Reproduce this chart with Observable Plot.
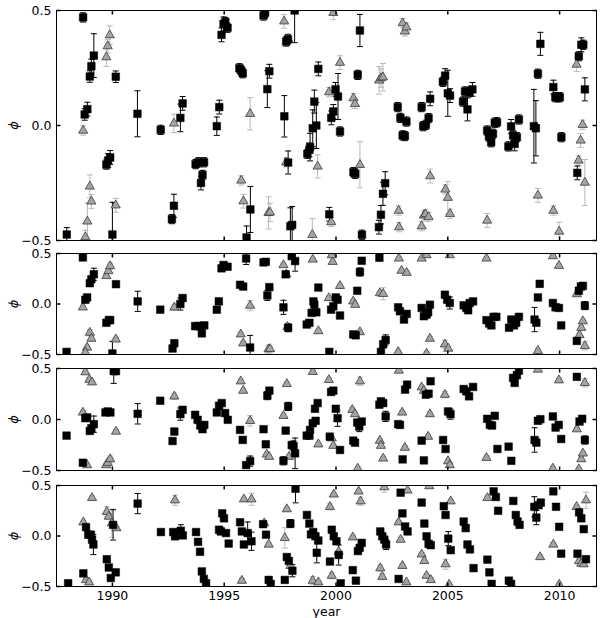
<!DOCTYPE html>
<html><head><meta charset="utf-8">
<script src="https://cdn.jsdelivr.net/npm/d3@7"></script>
<script src="https://cdn.jsdelivr.net/npm/@observablehq/plot@0.6"></script>
<style>
body{margin:0;background:#fff;}
#chart{position:relative;width:600px;height:618px;font-family:"DejaVu Sans";}
#chart svg{position:absolute;left:0;overflow:visible;}
</style></head><body><div id="chart"></div>
<script>
// ---- data: [year, phase, error] ----
const p1Squares = [
[1988.69,0.47,0.02],[1987.96,-0.474,0.03],[1988.99,0.213,0.025],[1989.06,0.258,0.03],[1989.17,0.304,0.095],
[1988.76,0.048,0.025],[1988.88,0.071,0.03],[1989.73,-0.17,0.02],[1989.81,-0.152,0.03],[1989.90,-0.139,0.03],
[1990.00,-0.474,0.14],[1990.15,0.212,0.025],[1991.12,0.051,0.1],[1992.16,-0.019,0.02],[1993.04,0.033,0.06],
[1993.14,0.096,0.03],[1992.66,-0.407,0.02],[1992.75,-0.349,0.05],[1993.72,-0.168,0.02],[1993.85,-0.16,0.02],
[1994.10,-0.16,0.02],[1994.03,-0.215,0.02],[1993.96,-0.25,0.03],[1994.88,0.394,0.03],[1994.97,0.442,0.03],
[1995.05,0.45,0.02],[1995.15,0.425,0.02],[1994.67,-0.003,0.04],[1994.78,0.08,0.03],[1995.68,0.249,0.02],
[1995.76,0.239,0.02],[1995.83,0.227,0.02],[1996.76,0.478,0.02],[1996.83,0.49,0.02],[1997.02,0.236,0.03],
[1996.93,0.158,0.08],[1996.17,-0.365,0.1],[1996.00,-0.487,0.05],[1997.69,0.04,0.09],[1997.77,0.365,0.02],
[1997.85,0.375,0.02],[1998.15,0.5,0.14],[1997.86,-0.161,0.05],[1997.96,-0.438,0.08],[1998.04,-0.432,0.08],
[1998.72,-0.123,0.02],[1998.81,-0.106,0.03],[1998.84,-0.094,0.06],[1998.96,-0.012,0.08],[1999.03,0.104,0.05],
[1999.12,0.0,0.1],[1999.21,0.246,0.03],[1999.79,0.033,0.03],[1999.88,0.061,0.03],[1999.98,0.157,0.03],
[2000.09,0.126,0.1],[2000.18,-0.026,0.02],[1999.70,-0.386,0.03],[2000.97,0.22,0.02],[2001.07,0.413,0.07],
[2000.78,-0.203,0.02],[2000.86,-0.21,0.02],[2001.16,-0.475,0.02],[2001.92,-0.442,0.03],[2002.01,-0.388,0.04],
[2002.10,-0.297,0.05],[2002.20,-0.251,0.05],[2002.76,0.08,0.02],[2002.88,0.033,0.02],[2003.15,0.017,0.02],
[2002.98,-0.043,0.02],[2003.08,-0.046,0.02],[2003.83,0.08,0.02],[2003.90,-0.003,0.02],[2004.02,0.003,0.02],
[2004.14,0.032,0.02],[2004.21,0.116,0.03],[2004.78,0.19,0.02],[2004.88,0.217,0.03],[2005.00,0.14,0.1],
[2005.10,0.13,0.03],[2005.68,0.104,0.02],[2005.77,0.148,0.02],[2005.88,0.07,0.05],[2005.97,0.145,0.02],
[2006.10,0.157,0.03],[2006.76,-0.022,0.02],[2006.84,-0.048,0.02],[2006.94,-0.073,0.02],[2007.02,-0.036,0.02],
[2007.10,0.012,0.02],[2007.20,0.014,0.02],[2007.71,-0.091,0.02],[2007.83,-0.004,0.03],[2007.92,-0.043,0.02],
[2007.99,-0.08,0.03],[2008.09,-0.051,0.02],[2008.18,0.026,0.02],[2008.85,-0.003,0.16],[2008.94,-0.012,0.12],
[2009.14,0.355,0.05],[2009.03,0.225,0.02],[2009.72,0.167,0.03],[2009.81,0.123,0.02],[2009.91,0.123,0.02],
[2010.01,0.123,0.02],[2010.08,-0.051,0.02],[2010.79,-0.206,0.03],[2010.86,0.301,0.02],[2010.97,0.351,0.03],
[2011.06,0.351,0.02],[2011.13,0.157,0.05]
];
const p1Triangles = [
[1988.69,-0.022,0.02],[1988.99,-0.265,0.05],[1989.06,-0.33,0.03],[1988.88,-0.417,0.08],[1988.79,-0.485,0.03],
[1989.73,0.297,0.04],[1989.79,0.345,0.03],[1989.88,0.393,0.04],[1990.15,-0.347,0.03],[1992.75,0.009,0.04],
[1995.76,-0.239,0.02],[1995.86,-0.329,0.03],[1996.16,0.051,0.07],[1996.98,-0.38,0.07],[1997.05,-0.378,0.04],
[1997.68,0.453,0.03],[1997.77,-0.16,0.02],[1997.86,0.377,0.02],[1998.94,-0.475,0.07],[1999.18,-0.178,0.05],
[1999.69,0.145,0.02],[1999.79,-0.42,0.02],[1999.88,0.49,0.03],[2000.18,0.273,0.03],[2000.78,0.119,0.02],
[2000.85,0.094,0.02],[2001.07,-0.171,0.1],[2001.93,0.196,0.06],[2002.01,0.206,0.04],[2002.10,0.21,0.06],
[2002.80,-0.37,0.02],[2002.82,-0.442,0.02],[2002.98,0.445,0.02],[2003.08,0.409,0.02],[2003.15,0.427,0.02],
[2003.83,-0.438,0.02],[2003.93,-0.391,0.02],[2004.00,-0.385,0.02],[2004.14,-0.398,0.02],[2004.21,-0.22,0.03],
[2004.89,-0.278,0.02],[2005.00,-0.314,0.07],[2005.10,-0.384,0.02],[2006.76,-0.413,0.03],[2009.03,-0.304,0.03],
[2009.72,-0.37,0.02],[2009.98,-0.461,0.04],[2010.76,0.265,0.03],[2011.03,0.003,0.02],[2010.94,-0.065,0.03],
[2010.85,-0.152,0.02],[2011.13,-0.248,0.1]
];
const p2Squares = [
[1988.68,0.461,0.02],[1987.95,-0.474,0.02],[1988.79,0.042,0.02],[1988.87,0.065,0.02],[1988.99,0.206,0.02],
[1989.06,0.245,0.02],[1989.17,0.294,0.06],[1989.73,-0.186,0.02],[1989.84,-0.16,0.02],[1989.90,-0.16,0.02],
[1990.00,-0.49,0.12],[1990.16,0.196,0.02],[1991.13,0.026,0.1],[1992.14,-0.056,0.02],[1992.69,-0.441,0.02],
[1992.77,-0.389,0.03],[1993.04,0.0,0.06],[1993.14,0.059,0.02],[1993.70,-0.219,0.02],[1993.81,-0.219,0.02],
[1993.93,-0.219,0.02],[1994.11,-0.212,0.02],[1994.00,-0.291,0.02],[1994.67,-0.056,0.02],[1994.76,0.026,0.02],
[1994.88,0.353,0.02],[1994.97,0.386,0.02],[1995.15,0.369,0.02],[1995.71,0.19,0.02],[1995.85,0.173,0.02],
[1995.98,0.451,0.06],[1996.16,-0.431,0.12],[1996.76,0.412,0.02],[1996.86,0.418,0.02],[1996.93,0.085,0.05],
[1997.02,0.167,0.02],[1997.65,-0.033,0.07],[1997.75,0.294,0.02],[1997.86,-0.235,0.04],[1998.02,0.474,0.02],
[1998.17,0.425,0.1],[1998.69,-0.203,0.02],[1998.81,-0.186,0.02],[1998.91,-0.088,0.02],[1998.99,0.026,0.02],
[1999.03,-0.006,0.02],[1999.12,-0.082,0.02],[1999.21,0.163,0.02],[1999.70,-0.474,0.02],[1999.78,-0.056,0.02],
[1999.88,-0.023,0.02],[1999.99,0.065,0.02],[2000.07,0.042,0.02],[2000.18,-0.114,0.02],[2000.95,0.131,0.02],
[2001.07,0.317,0.04],[2001.15,0.428,0.02],[2001.94,0.458,0.02],[2002.01,-0.474,0.02],[2002.11,-0.399,0.03],
[2002.22,-0.356,0.05],[2000.77,-0.301,0.02],[2000.88,-0.31,0.02],[2002.78,-0.033,0.02],[2002.86,-0.072,0.02],
[2003.04,-0.154,0.02],[2003.16,-0.098,0.02],[2003.83,-0.039,0.02],[2003.93,-0.121,0.02],[2004.05,-0.105,0.02],
[2004.12,-0.082,0.02],[2004.20,-0.007,0.02],[2004.87,0.092,0.02],[2004.97,0.042,0.02],[2005.09,0.01,0.06],
[2005.71,-0.013,0.02],[2005.83,-0.039,0.02],[2005.91,-0.062,0.02],[2005.98,0.01,0.02],[2006.13,0.026,0.02],
[2006.73,-0.16,0.02],[2006.85,-0.193,0.02],[2006.95,-0.212,0.02],[2007.05,-0.127,0.02],[2007.17,-0.127,0.02],
[2007.74,-0.235,0.02],[2007.84,-0.154,0.02],[2007.96,-0.212,0.02],[2008.06,-0.186,0.02],[2008.18,-0.127,0.02],
[2008.88,-0.154,0.12],[2008.96,-0.186,0.02],[2009.03,0.065,0.02],[2009.11,0.2,0.03],[2009.70,0.01,0.02],
[2009.82,-0.033,0.02],[2009.97,-0.039,0.02],[2010.07,-0.212,0.02],[2010.77,-0.366,0.02],[2010.86,0.131,0.02],
[2010.95,0.173,0.02],[2011.04,0.18,0.02],[2011.13,-0.016,0.04]
];
const p2Triangles = [
[1988.68,-0.033,0.02],[1988.99,-0.284,0.03],[1989.06,-0.343,0.02],[1988.87,-0.431,0.02],[1988.79,-0.48,0.02],
[1989.73,0.278,0.02],[1989.82,0.327,0.02],[1989.90,0.376,0.03],[1990.15,-0.35,0.02],[1992.77,-0.033,0.03],
[1995.74,-0.3,0.02],[1995.85,-0.389,0.02],[1996.16,-0.016,0.05],[1996.98,-0.448,0.04],[1997.05,-0.445,0.02],
[1997.65,0.386,0.02],[1997.78,0.294,0.02],[1997.83,-0.225,0.02],[1998.96,0.441,0.02],[1999.21,-0.268,0.02],
[1999.68,0.059,0.02],[1999.85,0.418,0.02],[1999.81,0.484,0.02],[2000.18,0.18,0.02],[2000.77,0.026,0.02],
[2000.86,-0.007,0.02],[2001.07,-0.278,0.02],[2001.96,0.108,0.02],[2002.11,0.101,0.06],[2002.81,0.451,0.02],
[2002.93,0.33,0.02],[2003.16,0.31,0.02],[2002.78,-0.474,0.02],[2003.83,0.451,0.02],[2004.05,0.484,0.02],
[2004.20,-0.343,0.02],[2004.05,-0.49,0.02],[2004.87,-0.399,0.04],[2005.02,-0.441,0.02],[2005.09,0.484,0.02],
[2006.73,0.451,0.02],[2009.03,-0.464,0.02],[2009.70,0.474,0.02],[2009.97,0.379,0.02],[2010.77,0.098,0.02],
[2010.89,-0.307,0.02],[2010.97,-0.235,0.02],[2011.04,-0.17,0.02],[2011.13,-0.415,0.04]
];
const p3Squares = [
[1987.95,-0.158,0.02],[1988.68,-0.424,0.02],[1988.79,0.013,0.02],[1988.87,0.02,0.02],[1988.99,-0.112,0.02],
[1989.06,-0.086,0.02],[1989.17,-0.046,0.08],[1989.69,0.069,0.02],[1989.79,0.079,0.02],[1989.91,0.069,0.02],
[1990.06,0.474,0.12],[1990.16,0.474,0.02],[1991.13,0.056,0.1],[1992.14,0.184,0.02],[1992.69,-0.211,0.02],
[1992.77,-0.118,0.03],[1993.04,0.053,0.06],[1993.14,0.095,0.02],[1993.70,0.046,0.02],[1993.81,-0.003,0.02],
[1993.93,-0.059,0.02],[1994.03,-0.095,0.02],[1994.11,-0.053,0.02],[1994.67,0.069,0.02],[1994.77,0.135,0.02],
[1994.89,0.161,0.02],[1995.04,0.063,0.02],[1995.16,-0.003,0.02],[1995.71,-0.102,0.02],[1995.83,-0.2,0.02],
[1995.98,-0.447,0.02],[1996.16,-0.408,0.05],[1996.76,-0.095,0.02],[1996.86,-0.243,0.02],[1996.93,0.234,0.04],
[1997.02,0.283,0.02],[1997.65,-0.405,0.04],[1997.75,-0.109,0.02],[1997.86,0.128,0.04],[1998.02,-0.25,0.02],
[1998.10,-0.26,0.05],[1998.17,-0.332,0.15],[1998.69,-0.158,0.02],[1998.81,-0.158,0.02],[1998.84,-0.102,0.02],
[1998.96,-0.036,0.02],[1999.06,0.105,0.02],[1999.09,-0.013,0.02],[1999.18,0.161,0.02],[1999.78,0.27,0.02],
[1999.88,0.283,0.02],[1999.72,-0.168,0.02],[1999.99,0.105,0.02],[2000.07,0.013,0.08],[2000.18,-0.299,0.02],
[2000.77,-0.207,0.02],[2000.85,-0.227,0.02],[2000.95,-0.03,0.02],[2001.04,-0.069,0.05],[2001.15,-0.02,0.02],
[2001.94,0.145,0.02],[2002.01,0.178,0.02],[2002.11,0.161,0.02],[2002.22,0.03,0.05],[2002.78,-0.046,0.02],
[2002.86,-0.053,0.02],[2002.98,-0.391,0.02],[2003.09,0.293,0.02],[2003.18,0.342,0.02],[2003.83,-0.207,0.02],
[2003.93,-0.401,0.02],[2004.02,0.243,0.02],[2004.14,0.253,0.02],[2004.23,0.375,0.02],[2004.79,-0.201,0.02],
[2004.90,-0.289,0.02],[2005.01,0.079,0.02],[2005.12,0.053,0.05],[2005.71,0.299,0.02],[2005.83,0.276,0.02],
[2005.95,0.227,0.02],[2006.13,0.319,0.02],[2006.76,0.007,0.02],[2006.88,-0.053,0.02],[2006.98,-0.059,0.02],
[2007.10,0.036,0.02],[2007.22,-0.289,0.02],[2007.72,-0.266,0.02],[2007.84,-0.405,0.02],[2007.92,0.408,0.02],
[2007.99,0.359,0.02],[2008.09,0.434,0.02],[2008.18,0.48,0.02],[2008.88,-0.201,0.12],[2008.96,-0.227,0.02],
[2009.03,-0.013,0.02],[2009.14,0.003,0.02],[2009.70,0.03,0.02],[2009.82,-0.079,0.02],[2009.96,-0.053,0.02],
[2010.07,-0.191,0.02],[2010.77,0.418,0.02],[2010.89,-0.02,0.02],[2011.01,0.007,0.02],[2011.13,-0.201,0.04]
];
const p3Triangles = [
[1988.68,0.069,0.02],[1988.79,0.464,0.02],[1988.97,0.391,0.02],[1989.09,0.365,0.02],[1988.87,-0.447,0.02],
[1989.72,-0.447,0.02],[1989.79,-0.424,0.02],[1989.90,-0.388,0.03],[1990.16,-0.118,0.02],[1992.77,0.227,0.03],
[1995.74,0.375,0.02],[1995.85,0.283,0.02],[1996.16,-0.013,0.05],[1996.90,-0.342,0.02],[1997.01,-0.365,0.02],
[1997.65,0.036,0.02],[1997.80,0.349,0.02],[1997.90,-0.365,0.02],[1998.96,0.467,0.02],[1999.21,-0.243,0.02],
[1999.68,0.388,0.02],[1999.81,-0.184,0.02],[1999.88,-0.257,0.02],[2000.73,0.095,0.02],[2000.85,0.053,0.02],
[2001.07,0.375,0.04],[2000.97,-0.48,0.02],[2001.96,-0.207,0.02],[2002.01,-0.257,0.02],[2002.11,-0.382,0.02],
[2002.81,0.48,0.02],[2002.96,0.069,0.02],[2003.08,-0.276,0.02],[2003.83,0.316,0.02],[2003.93,0.283,0.02],
[2004.12,-0.168,0.02],[2004.20,0.053,0.02],[2004.87,0.243,0.03],[2005.01,-0.408,0.02],[2005.09,-0.447,0.02],
[2006.73,-0.375,0.02],[2009.03,0.49,0.02],[2009.70,-0.48,0.02],[2009.97,0.385,0.02],[2010.77,-0.095,0.02],
[2010.86,-0.487,0.02],[2010.97,-0.388,0.02],[2011.04,-0.332,0.02],[2011.13,0.359,0.04]
];
const p4Squares = [
[1988.02,-0.468,0.02],[1988.70,-0.37,0.02],[1988.82,0.088,0.02],[1988.92,0.013,0.02],[1989.04,0.013,0.02],
[1989.09,-0.036,0.02],[1989.15,-0.084,0.1],[1989.75,-0.23,0.02],[1989.84,-0.312,0.02],[1989.93,-0.416,0.02],
[1990.03,0.11,0.15],[1990.15,-0.36,0.02],[1991.13,0.321,0.1],[1992.17,0.039,0.02],[1992.72,0.039,0.02],
[1992.80,-0.003,0.03],[1993.06,0.052,0.06],[1993.15,0.006,0.02],[1993.74,0.039,0.02],[1993.83,-0.058,0.02],
[1993.92,-0.156,0.02],[1994.00,-0.351,0.02],[1994.09,-0.425,0.02],[1994.19,-0.468,0.02],[1994.77,0.062,0.02],
[1994.85,0.045,0.02],[1994.91,0.224,0.02],[1994.99,0.175,0.02],[1995.08,0.029,0.02],[1995.20,-0.075,0.02],
[1995.71,0.136,0.02],[1995.79,0.045,0.02],[1995.88,-0.084,0.02],[1996.05,0.029,0.11],[1996.22,-0.052,0.09],
[1996.74,0.117,0.02],[1996.87,0.013,0.02],[1996.99,-0.435,0.03],[1997.08,-0.474,0.02],[1997.71,-0.435,0.02],
[1997.80,-0.208,0.02],[1997.89,-0.247,0.02],[1997.96,0.123,0.04],[1998.05,-0.344,0.06],[1998.19,0.468,0.14],
[1998.70,0.208,0.02],[1998.81,0.123,0.02],[1998.88,0.016,0.02],[1998.98,0.039,0.02],[1999.08,-0.003,0.02],
[1999.14,-0.166,0.1],[1999.21,-0.045,0.02],[1999.73,-0.253,0.02],[1999.81,0.062,0.02],[1999.90,-0.003,0.02],
[2000.02,-0.052,0.02],[2000.12,-0.188,0.1],[2000.21,-0.468,0.02],[2000.75,-0.338,0.02],[2000.89,-0.442,0.02],
[2000.98,-0.149,0.02],[2001.06,-0.117,0.02],[2001.15,-0.068,0.02],[2001.98,0.045,0.02],[2002.07,-0.003,0.02],
[2002.16,-0.036,0.02],[2002.24,-0.084,0.05],[2002.80,-0.425,0.02],[2002.89,0.429,0.02],[2002.97,0.224,0.02],
[2003.09,0.094,0.02],[2003.20,0.045,0.02],[2003.83,0.331,0.02],[2003.95,0.123,0.02],[2004.05,-0.003,0.02],
[2004.14,-0.078,0.02],[2004.24,-0.091,0.02],[2004.82,0.295,0.02],[2004.90,0.208,0.02],[2005.02,-0.026,0.07],
[2005.13,-0.14,0.02],[2005.71,0.143,0.02],[2005.80,0.078,0.02],[2005.88,-0.084,0.02],[2005.99,-0.133,0.02],
[2006.15,-0.318,0.02],[2006.77,-0.234,0.02],[2006.86,-0.36,0.02],[2006.96,-0.474,0.02],[2007.05,0.442,0.02],
[2007.15,0.386,0.02],[2007.25,0.25,0.02],[2007.73,-0.442,0.02],[2007.83,-0.474,0.02],[2007.93,0.347,0.02],
[2008.04,0.208,0.02],[2008.12,0.143,0.02],[2008.21,0.11,0.02],[2008.87,0.289,0.1],[2008.96,0.182,0.07],
[2009.06,0.305,0.02],[2009.16,0.331,0.02],[2009.72,0.442,0.02],[2009.84,0.289,0.02],[2009.98,0.091,0.02],
[2010.07,-0.175,0.02],[2010.80,-0.175,0.02],[2010.87,0.234,0.02],[2010.97,0.175,0.02],[2011.08,0.068,0.02],
[2011.18,-0.23,0.03]
];
const p4Triangles = [
[1988.70,0.136,0.02],[1988.82,-0.435,0.02],[1988.96,-0.458,0.02],[1989.09,0.377,0.02],[1989.75,0.24,0.05],
[1989.84,0.192,0.02],[1989.98,0.127,0.14],[1990.18,0.078,0.02],[1992.80,0.354,0.05],[1995.79,-0.442,0.02],
[1995.88,0.364,0.02],[1996.22,0.364,0.06],[1996.79,0.127,0.02],[1996.99,-0.084,0.02],[1997.71,-0.019,0.1],
[1997.80,0.266,0.02],[1997.96,-0.295,0.02],[1998.96,-0.442,0.04],[1999.21,-0.458,0.02],[1999.73,0.289,0.03],
[1999.90,0.412,0.02],[1999.81,-0.393,0.03],[2000.12,-0.156,0.02],[2000.75,-0.013,0.02],[2001.01,0.442,0.02],
[2001.10,0.344,0.04],[2001.98,-0.318,0.03],[2002.07,-0.403,0.03],[2002.16,0.484,0.05],[2002.80,0.136,0.02],
[2002.89,-0.036,0.02],[2002.97,-0.295,0.02],[2003.20,0.451,0.02],[2003.15,-0.458,0.02],[2003.83,-0.182,0.02],
[2003.95,-0.247,0.02],[2004.05,-0.393,0.02],[2004.24,-0.435,0.02],[2004.17,0.494,0.02],[2004.90,-0.279,0.05],
[2005.13,0.344,0.02],[2005.06,-0.481,0.02],[2006.77,0.377,0.02],[2009.13,-0.208,0.02],[2009.72,-0.084,0.02],
[2009.98,-0.481,0.02],[2010.76,0.289,0.02],[2010.87,-0.247,0.02],[2010.97,-0.273,0.02],[2011.08,-0.279,0.02],
[2011.18,0.354,0.08]
];
const xTicks = [1990, 1995, 2000, 2005, 2010];
const yTicks = [-0.5, 0.0, 0.5];
const xLabel = "year";
const yLabel = "ϕ";

// ---- layout ----
const X_DOMAIN = [1987.5, 2011.65];
const Y_DOMAIN = [-0.5, 0.5];
const panels = [
  {sq: p1Squares, tri: p1Triangles, top: 0,   height: 247, mt: 10, mb: 7,  bottom: false},
  {sq: p2Squares, tri: p2Triangles, top: 247, height: 115, mt: 6,  mb: 8,  bottom: false},
  {sq: p3Squares, tri: p3Triangles, top: 362, height: 115, mt: 6,  mb: 7,  bottom: false},
  {sq: p4Squares, tri: p4Triangles, top: 477, height: 141, mt: 8,  mb: 32, bottom: true}
];
const line = (x0, y0, x1, y1) => ({draw(ctx) { ctx.moveTo(x0, y0); ctx.lineTo(x1, y1); }});
const cap = line(-3, 0, 3, 0);
const TL = 4;

function errMarks(data, color) {
  return [
    Plot.ruleX(data, {x: d => d[0], y1: d => d[1] - d[2], y2: d => d[1] + d[2], stroke: color, strokeWidth: 1, clip: true}),
    Plot.dot(data, {x: d => d[0], y: d => d[1] + d[2], symbol: cap, fill: "none", stroke: color, strokeWidth: 1, clip: true}),
    Plot.dot(data, {x: d => d[0], y: d => d[1] - d[2], symbol: cap, fill: "none", stroke: color, strokeWidth: 1, clip: true})
  ];
}

const root = document.getElementById("chart");
for (const p of panels) {
  const svg = Plot.plot({
    width: 600, height: p.height,
    marginLeft: 56, marginRight: 4, marginTop: p.mt, marginBottom: p.mb,
    style: {fontFamily: "DejaVu Sans", fontSize: "12.5px", overflow: "visible", background: "transparent", color: "black"},
    x: p.bottom
      ? {domain: X_DOMAIN, ticks: xTicks, tickFormat: d => String(d), tickSize: 0, tickPadding: 5, label: xLabel, labelAnchor: "center", labelOffset: 29, labelArrow: "none"}
      : {domain: X_DOMAIN, axis: null},
    y: {domain: Y_DOMAIN, ticks: yTicks, tickFormat: d3.format(".1f"), tickSize: 0, tickPadding: 5, label: yLabel, labelAnchor: "center", labelOffset: 48, labelArrow: "none"},
    marks: [
      ...errMarks(p.tri, "#b8b8b8"),
      ...errMarks(p.sq, "black"),
      Plot.dot(p.tri, {x: d => d[0], y: d => d[1], symbol: "triangle", r: 3.4, fill: "#a4a4a4", stroke: "#3a3a3a", strokeWidth: 0.8, clip: true}),
      Plot.dot(p.sq, {x: d => d[0], y: d => d[1], symbol: "square", r: 4.3, fill: "black", stroke: "black", strokeWidth: 0.5, clip: true}),
      // inward tick marks on all four sides
      Plot.dot(yTicks, {x: () => X_DOMAIN[0], y: d => d, symbol: line(0, 0, TL, 0), fill: "none", stroke: "black"}),
      Plot.dot(yTicks, {x: () => X_DOMAIN[1], y: d => d, symbol: line(0, 0, -TL, 0), fill: "none", stroke: "black"}),
      Plot.dot(xTicks, {x: d => d, y: () => Y_DOMAIN[0], symbol: line(0, 0, 0, -TL), fill: "none", stroke: "black"}),
      Plot.dot(xTicks, {x: d => d, y: () => Y_DOMAIN[1], symbol: line(0, 0, 0, TL), fill: "none", stroke: "black"}),
      Plot.frame({stroke: "black", strokeWidth: 1})
    ]
  });
  svg.style.top = p.top + "px";
  svg.querySelectorAll("text").forEach(t => {
    const s = t.textContent.replace(/\s*[↑→←↓]\s*/g, "").trim();
    if (s !== t.textContent && (s === yLabel || s === xLabel)) t.textContent = s;
    if (s === yLabel) { t.style.fontStyle = "italic"; t.style.fontSize = "13px"; }
  });
  root.appendChild(svg);
}
</script></body></html>
